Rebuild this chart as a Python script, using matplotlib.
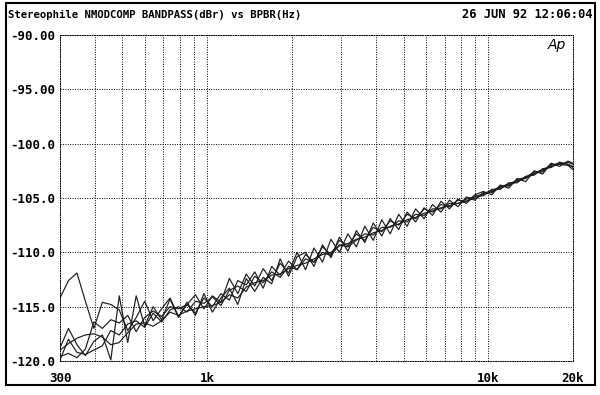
import matplotlib
matplotlib.use("Agg")
import matplotlib.pyplot as plt
from matplotlib.patches import Rectangle
from matplotlib.ticker import NullLocator

title = "Stereophile NMODCOMP BANDPASS(dBr) vs BPBR(Hz)"
stamp = "26 JUN 92 12:06:04"

# sweep points (1/10 octave)
freq_hz = [300, 321.5, 344.6, 369.3, 395.8, 424.3, 454.7, 487.3, 522.3, 559.8,
           600, 643.1, 689.2, 738.6, 791.7, 848.5, 909.4, 974.7, 1044.7, 1119.6,
           1200, 1286, 1378, 1477, 1583, 1697, 1819, 1949, 2089, 2239,
           2400, 2572, 2757, 2955, 3167, 3394, 3638, 3899, 4179, 4479,
           4800, 5144, 5513, 5909, 6333, 6788, 7275, 7797, 8357, 8957,
           9600, 10289, 11027, 11818, 12667, 13576, 14550, 15595, 16714, 17914,
           19200, 20000]

trace_a = [-114.2, -112.6, -111.9, -114.5, -117.0, -114.6, -114.8, -115.3, -117.2, -116.0,
           -114.5, -116.3, -115.2, -114.2, -115.9, -114.8, -113.9, -115.2, -114.0, -114.6,
           -112.4, -113.8, -112.0, -113.1, -111.5, -112.6, -111.0, -111.9, -110.0, -111.6,
           -109.6, -110.9, -108.8, -110.0, -108.3, -109.5, -107.6, -108.9, -107.0, -108.3,
           -106.5, -107.6, -106.0, -106.9, -105.6, -106.3, -105.2, -105.8, -104.9, -105.2,
           -104.5, -104.5, -103.9, -103.9, -103.3, -103.1, -102.6, -102.5, -101.9, -101.9,
           -101.7, -101.9]

trace_b = [-119.0, -118.4, -117.9, -117.6, -117.5, -117.8, -118.5, -118.3, -117.4, -116.6,
           -116.5, -116.8, -116.3, -115.5, -115.8, -115.4, -115.2, -115.0, -114.9, -114.6,
           -113.9, -114.2, -113.2, -112.8, -112.6, -112.1, -112.0, -111.5, -111.2, -111.0,
           -110.6, -110.2, -110.0, -109.4, -109.2, -108.8, -108.6, -108.2, -108.0, -107.6,
           -107.4, -107.0, -106.8, -106.4, -106.2, -105.9, -105.7, -105.5, -105.3, -105.0,
           -104.7, -104.4, -104.1, -103.8, -103.5, -103.1, -102.8, -102.4, -102.1, -101.9,
           -102.0, -102.4]

trace_c = [-118.8, -117.0, -118.5, -119.5, -118.2, -117.6, -119.9, -114.0, -118.3, -114.0,
           -116.8, -115.0, -116.2, -114.3, -116.0, -114.6, -115.8, -113.8, -115.5, -114.2,
           -113.3, -114.8, -112.4, -113.6, -112.3, -112.9, -110.6, -112.2, -110.4, -110.0,
           -111.3, -109.3, -110.5, -108.6, -109.9, -108.0, -109.1, -107.3, -108.5, -106.9,
           -107.9, -106.3, -107.2, -105.9, -106.6, -105.3, -106.0, -105.1, -105.5, -104.7,
           -104.4, -104.7, -103.8, -104.1, -103.2, -103.5, -102.5, -102.8, -101.8, -102.1,
           -101.6, -101.8]

trace_d = [-119.6, -119.3, -119.7, -118.9, -116.4, -117.0, -116.2, -116.5, -115.8, -117.3,
           -116.0, -115.4, -115.9, -115.0, -115.2, -114.8, -115.6, -114.2, -115.0, -113.8,
           -114.4, -112.6, -113.0, -111.8, -113.3, -111.3, -112.1, -110.8, -111.6, -110.2,
           -110.9, -109.5, -110.2, -108.9, -109.4, -108.3, -108.9, -107.7, -108.1, -107.1,
           -107.5, -106.5, -106.9, -106.0, -106.3, -105.6, -105.8, -105.2, -105.3, -104.8,
           -104.8, -104.2, -104.2, -103.6, -103.6, -103.0, -102.9, -102.3, -102.2, -101.7,
           -101.9, -102.1]

trace_e = [-119.9, -118.0, -119.2, -119.4, -119.0, -118.6, -117.2, -117.6, -116.6, -116.3,
           -116.9, -115.6, -116.4, -115.3, -115.0, -115.5, -114.5, -114.7, -114.1, -114.9,
           -113.5, -113.1, -113.6, -112.2, -112.8, -111.8, -112.3, -111.3, -111.6, -110.6,
           -110.9, -110.0, -110.3, -109.3, -109.5, -108.9, -108.3, -108.4, -107.7, -107.7,
           -107.1, -107.2, -106.5, -106.6, -106.0, -106.0, -105.5, -105.5, -105.1, -104.9,
           -104.6, -104.3, -104.0, -103.7, -103.4, -103.2, -102.7, -102.6, -102.0, -101.8,
           -101.9, -102.2]

x_grid = [300, 400, 500, 600, 700, 800, 900, 1000, 2000, 3000, 4000, 5000,
          6000, 7000, 8000, 9000, 10000, 20000]
x_labels = ["300", "", "", "", "", "", "", "1k", "", "", "", "", "", "", "", "", "10k", "20k"]
y_ticks = [-120, -115, -110, -105, -100, -95, -90]
y_labels = ["-120.0", "-115.0", "-110.0", "-105.0", "-100.0", "-95.00", "-90.00"]

plt.rcParams["font.family"] = ["DejaVu Sans Mono"]
plt.rcParams["font.weight"] = "bold"

W, H = 600, 395
fig = plt.figure(figsize=(W / 100, H / 100), dpi=100)
ax = fig.add_axes([60 / W, 1 - 361 / H, (573 - 60) / W, (361 - 35) / H])

for tr in [trace_a, trace_b, trace_c, trace_d, trace_e]:
    ax.plot(freq_hz, tr, color="#1c1c1c", lw=0.85)

ax.set_xscale("log")
ax.set_xlim(300, 20000)
ax.set_ylim(-120, -90)
ax.set_xticks(x_grid)
ax.set_xticklabels(x_labels)
ax.xaxis.set_minor_locator(NullLocator())
ax.set_yticks(y_ticks)
ax.set_yticklabels(y_labels)
ax.tick_params(axis="both", length=0, labelsize=9)
ax.tick_params(axis="x", pad=8)
ax.tick_params(axis="y", pad=3.5)

dots = (0, (1, 1.5))
ax.grid(True, color="black", lw=0.7, ls=dots)
for s in ax.spines.values():
    s.set_linestyle(dots)
    s.set_linewidth(0.7)

fig.text(8 / W, 1 - 15 / H, title, ha="left", va="center", fontsize=7.7)
fig.text(592 / W, 1 - 15 / H, stamp, ha="right", va="center", fontsize=8.7)
fig.text(557 / W, 1 - 45 / H, "Ap", ha="center", va="center", style="italic",
         family="DejaVu Sans", weight="normal", fontsize=10)

fig.patches.append(Rectangle((6 / W, 1 - 385 / H), (595 - 6) / W, (385 - 3) / H,
                             transform=fig.transFigure, fill=False, lw=1.5, ec="black"))

fig.savefig("out.png", dpi=100, facecolor="white")
